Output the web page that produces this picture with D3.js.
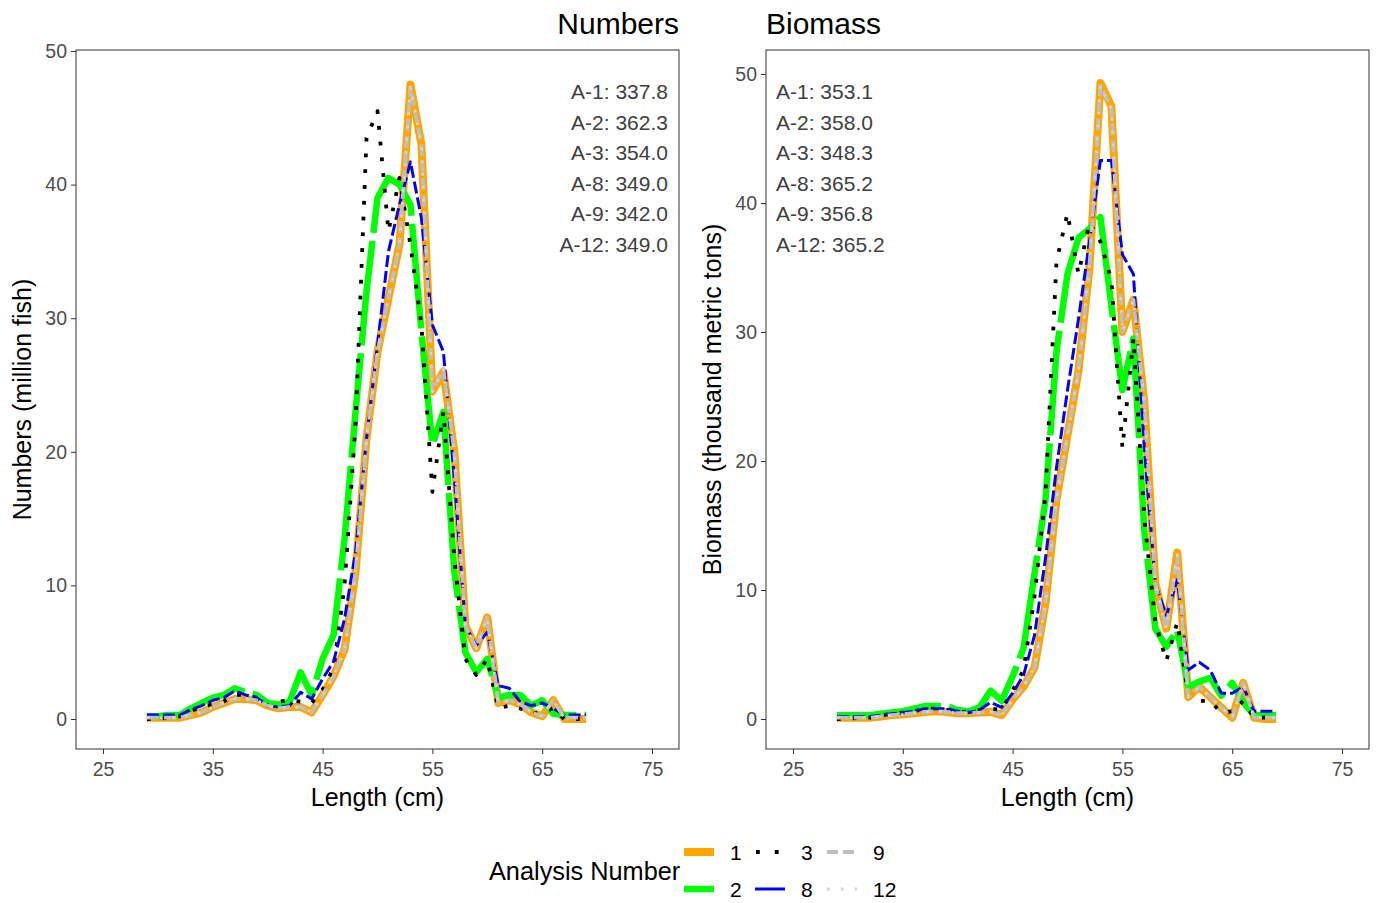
<!DOCTYPE html>
<html>
<head>
<meta charset="utf-8">
<script src="https://cdn.jsdelivr.net/npm/d3@7/dist/d3.min.js"></script>
<style>
  body { margin: 0; background: #fff; }
  text { font-family: "Liberation Sans", Arial, sans-serif; }
</style>
</head>
<body>
<div id="chart-area"></div>
<script>
// --> DATA (length classes in cm)
var lengths = [29,30,31,32,33,34,35,36,37,38,39,40,41,42,43,44,45,46,47,48,49,
               50,51,52,53,54,55,56,57,58,59,60,61,62,63,64,65,66,67,68,69];

var analyses = ["1", "2", "3", "8", "9", "12"];

// Numbers (million fish)
var numA1  = [0.1,0.1,0.1,0.1,0.3,0.5,0.9,1.2,1.5,1.5,1.4,1.0,0.8,0.9,0.9,0.5,
              1.8,3.2,5.2,11,21,27.5,31.5,35.5,47.5,43,24.5,26,20,7,5.3,7.6,1.2,1.4,1.1,0.5,0.2,1.4,0,0,0];
var numA2  = [0.2,0.2,0.3,0.3,0.8,1.2,1.6,1.8,2.3,2.0,1.8,1.2,1.1,1.3,3.5,1.8,
              4.5,6.3,13.5,23,32,39,40.5,40,38.5,29,20.5,23,11,5,3.5,4.5,1.6,1.8,1.8,1.0,1.4,0.4,0.3,0.3,0.3];
var numA3  = [0,0,0.1,0.2,0.6,0.9,1.1,1.3,1.8,1.8,1.6,1.0,1.3,1.4,1.3,1.2,
              2.2,3.8,10,22,43.5,45.5,36.5,40.5,35.5,29.5,17,23,12,4.5,3.3,4.5,0.8,1.0,0.8,0.4,0.5,0.8,0,0,0];
var numA8  = [0.3,0.3,0.3,0.3,0.7,1.0,1.4,1.6,2.1,1.8,1.6,1.0,0.9,1.0,2.0,1.5,
              3.0,4.3,7.5,12.5,21,28,35,38.5,41.7,37.5,29.5,27.5,18,7,5.5,6.5,2.5,2.3,1.3,1.0,1.2,0.8,0.3,0.3,0.3];
var numA9  = [0.1,0.1,0.1,0.1,0.3,0.5,0.9,1.2,1.5,1.5,1.4,1.0,0.8,0.9,0.9,0.5,
              1.8,3.2,5.2,11,21,27.5,31.5,35.5,47.3,43,24.5,26.2,20,7,5.3,7.6,1.2,1.4,1.1,0.5,0.2,1.4,0.1,0.1,0.1];
var numA12 = [0.1,0.1,0.1,0.1,0.3,0.5,0.9,1.2,1.5,1.5,1.4,1.0,0.8,0.9,0.9,0.5,
              1.8,3.2,5.2,11,21,27.5,31.5,35.5,47.3,43,24.5,26.2,20,7,5.3,7.6,1.2,1.4,1.1,0.5,0.2,1.4,0.1,0.1,0.1];

// Biomass (thousand metric tons)
var bioA1  = [0.1,0.1,0.1,0.1,0.2,0.3,0.35,0.45,0.55,0.6,0.55,0.45,0.45,0.5,0.55,0.3,
              1.5,2.5,4,9,17,22,27,35,49.3,47.5,30,32.5,24.5,10.5,7,12.9,1.7,2.5,1.7,0.9,0.1,2.8,0.1,0,0];
var bioA2  = [0.3,0.3,0.3,0.3,0.4,0.5,0.6,0.8,1.0,1.0,1.0,0.7,0.6,0.9,2.2,1.4,
              3.3,5.5,11.3,17,28.5,34.5,37.3,38,38.9,32,25.5,29.5,14.5,7,5.6,6.9,2.5,2.9,3.2,1.8,2.8,1.3,0.3,0.3,0.3];
var bioA3  = [0,0,0.1,0.1,0.3,0.4,0.5,0.6,0.8,0.8,0.7,0.5,0.6,0.7,0.8,0.7,
              2.2,3.8,9.5,17.5,35.5,39.2,34.5,38.5,37,34,21,29.5,15.5,7.5,4.5,7.5,1.8,1.4,1.4,0.5,0.6,1.4,0.1,0.1,0.1];
var bioA8  = [0.2,0.2,0.2,0.2,0.3,0.4,0.5,0.6,0.8,0.8,0.8,0.6,0.5,0.7,1.3,0.9,
              2.0,3.4,6.5,12.5,19.5,25.5,31,37,43.3,43.3,36,34.5,21,10.5,8,10.8,3.8,4.4,3.8,2.0,2.0,2.5,0.6,0.6,0.6];
var bioA9  = [0.1,0.1,0.1,0.1,0.2,0.3,0.35,0.45,0.55,0.6,0.55,0.45,0.45,0.5,0.55,0.3,
              1.5,2.5,4,9,17,22,27,35,49.1,47.3,30,32.5,24.5,10.5,7,12.7,1.7,2.5,1.7,0.9,0.1,2.8,0.1,0.1,0.1];
var bioA12 = [0.1,0.1,0.1,0.1,0.2,0.3,0.35,0.45,0.55,0.6,0.55,0.45,0.45,0.5,0.55,0.3,
              1.5,2.5,4,9,17,22,27,35,49.1,47.3,30,32.5,24.5,10.5,7,12.7,1.7,2.5,1.7,0.9,0.1,2.8,0.1,0.1,0.1];

// totals printed in the panels
var numTotals = ["A-1: 337.8", "A-2: 362.3", "A-3: 354.0", "A-8: 349.0", "A-9: 342.0", "A-12: 349.0"];
var bioTotals = ["A-1: 353.1", "A-2: 358.0", "A-3: 348.3", "A-8: 365.2", "A-9: 356.8", "A-12: 365.2"];

var xTicks = [25, 35, 45, 55, 65, 75];
var yTicks = [0, 10, 20, 30, 40, 50];

// line styles per analysis (ggplot-ish look)
var styles = {
  "1":  {color: "#FFA500", width: 8,   dash: null,     legendDash: null},
  "2":  {color: "#00FF00", width: 6.5, dash: "105,8",  legendDash: null},
  "3":  {color: "#000000", width: 3.8, dash: "3.8,12", legendDash: "3.8,15"},
  "8":  {color: "#0000FF", width: 3,   dash: "12,4",   legendDash: null},
  "9":  {color: "#BEBEBE", width: 3.8, dash: "12,5",   legendDash: "11,5"},
  "12": {color: "#D3D3D3", width: 2.8, dash: "2.8,10", legendDash: "2.8,11"}
};

// --> SVG DRAWING AREA
var width = 1376;
var height = 903;

var svg = d3.select("#chart-area").append("svg")
  .attr("width", width)
  .attr("height", height);

function drawPanel(opts) {
  var x = d3.scaleLinear().domain([25, 75]).range(opts.xRange);
  var y = d3.scaleLinear().domain([0, 50]).range(opts.yRange);

  var g = svg.append("g");

  // series, drawn in factor order
  var line = d3.line()
    .x(function(d){ return x(d.len); })
    .y(function(d){ return y(d.val); });

  analyses.forEach(function(a){
    var vals = opts.series[a];
    var pts = lengths.map(function(l, i){ return {len: l, val: vals[i]}; });
    var s = styles[a];
    g.append("path")
      .datum(pts)
      .attr("d", line)
      .attr("fill", "none")
      .attr("stroke", s.color)
      .attr("stroke-width", s.width)
      .attr("stroke-linejoin", "round")
      .attr("stroke-linecap", "butt")
      .attr("stroke-dasharray", s.dash);
  });

  // panel border
  g.append("rect")
    .attr("x", opts.box[0])
    .attr("y", opts.box[1])
    .attr("width", opts.box[2] - opts.box[0])
    .attr("height", opts.box[3] - opts.box[1])
    .attr("fill", "none")
    .attr("stroke", "#333333")
    .attr("stroke-width", 1);

  // axes
  var xAxis = d3.axisBottom(x).tickValues(xTicks).tickSize(5).tickPadding(8);
  var yAxis = d3.axisLeft(y).tickValues(yTicks).tickSize(5).tickPadding(4);

  var gx = g.append("g")
    .attr("transform", "translate(0," + opts.box[3] + ")")
    .call(xAxis);
  var gy = g.append("g")
    .attr("transform", "translate(" + opts.box[0] + ",0)")
    .call(yAxis);

  [gx, gy].forEach(function(ax){
    ax.select(".domain").remove();
    ax.selectAll(".tick line").attr("stroke", "#333333");
    ax.selectAll(".tick text")
      .attr("fill", "#4d4d4d")
      .style("font-size", "19.5px")
      .style("font-family", "'Liberation Sans', Arial, sans-serif");
  });

  // titles
  g.append("text")
    .attr("x", opts.titleX)
    .attr("y", 34)
    .attr("text-anchor", opts.titleAnchor)
    .style("font-size", "30px")
    .text(opts.title);

  g.append("text")
    .attr("x", (opts.box[0] + opts.box[2]) / 2)
    .attr("y", 806)
    .attr("text-anchor", "middle")
    .style("font-size", "25px")
    .text("Length (cm)");

  g.append("text")
    .attr("transform", "translate(" + opts.yTitleX + "," + ((opts.box[1] + opts.box[3]) / 2) + ") rotate(-90)")
    .attr("text-anchor", "middle")
    .style("font-size", "25px")
    .text(opts.yTitle);

  // totals
  g.selectAll(".total")
    .data(opts.totals)
    .enter()
    .append("text")
    .attr("class", "total")
    .attr("x", opts.totalX)
    .attr("y", function(d, i){ return 99 + i * 30.6; })
    .attr("text-anchor", opts.totalAnchor)
    .attr("fill", "#404040")
    .style("font-size", "21px")
    .text(function(d){ return d; });
}

drawPanel({
  xRange: [103, 652], yRange: [719, 51], box: [76, 50, 679, 749],
  series: {"1": numA1, "2": numA2, "3": numA3, "8": numA8, "9": numA9, "12": numA12},
  title: "Numbers", titleX: 679, titleAnchor: "end",
  yTitle: "Numbers (million fish)", yTitleX: 31,
  totals: numTotals, totalX: 668, totalAnchor: "end"
});

drawPanel({
  xRange: [793, 1342], yRange: [719, 74], box: [766, 50, 1369, 749],
  series: {"1": bioA1, "2": bioA2, "3": bioA3, "8": bioA8, "9": bioA9, "12": bioA12},
  title: "Biomass", titleX: 766, titleAnchor: "start",
  yTitle: "Biomass (thousand metric tons)", yTitleX: 721,
  totals: bioTotals, totalX: 776, totalAnchor: "start"
});

// --> LEGEND
var legend = svg.append("g").attr("class", "legend");

legend.append("text")
  .attr("x", 489)
  .attr("y", 880)
  .style("font-size", "25.3px")
  .text("Analysis Number");

// two rows, filled column by column
var legendCols = [684, 755, 827];
var legendRows = [852, 889];

analyses.forEach(function(a, i){
  var col = Math.floor(i / 2);
  var row = i % 2;
  var s = styles[a];
  var kx = legendCols[col];
  var ky = legendRows[row];
  legend.append("line")
    .attr("x1", kx)
    .attr("x2", kx + 30)
    .attr("y1", ky)
    .attr("y2", ky)
    .attr("stroke", s.color)
    .attr("stroke-width", s.width)
    .attr("stroke-dasharray", s.legendDash)
    .attr("stroke-dashoffset", a == "3" ? -1 : 0);
  legend.append("text")
    .attr("x", kx + 46)
    .attr("y", ky + 7.5)
    .style("font-size", "21px")
    .text(a);
});
</script>
</body>
</html>
